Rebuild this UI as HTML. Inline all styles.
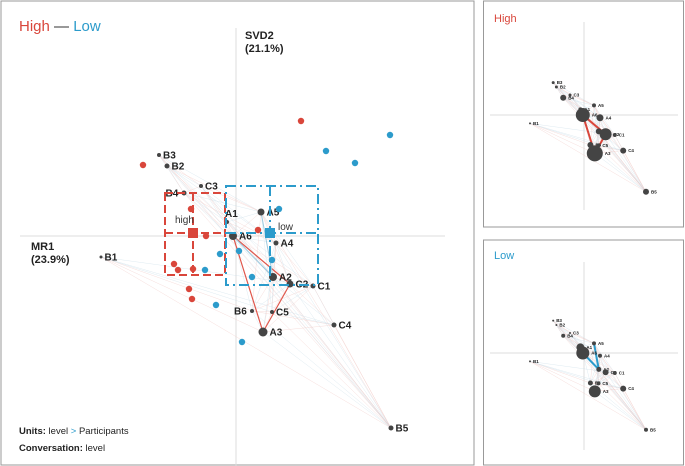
<!DOCTYPE html>
<html><head><meta charset="utf-8"><style>
body{margin:0;background:#fff;font-family:"Liberation Sans",sans-serif}
svg{display:block}
</style></head><body>
<svg id="s" width="685" height="466" xmlns="http://www.w3.org/2000/svg" font-family="Liberation Sans, sans-serif">
<rect x="1" y="1" width="473" height="464" fill="none" stroke="#999"/>
<rect x="483.5" y="1" width="200" height="226" fill="none" stroke="#999"/>
<rect x="483.5" y="240" width="200" height="225" fill="none" stroke="#999"/>
<text x="19" y="31" font-size="15"><tspan fill="#d9463b">High</tspan><tspan fill="#333"> — </tspan><tspan fill="#2c9bcb">Low</tspan></text>
<text x="245" y="39" font-size="11" font-weight="bold" fill="#222">SVD2</text>
<text x="245" y="52" font-size="11" font-weight="bold" fill="#222">(21.1%)</text>
<text x="31" y="250" font-size="11" font-weight="bold" fill="#222">MR1</text>
<text x="31" y="263" font-size="11" font-weight="bold" fill="#222">(23.9%)</text>
<text x="19" y="434" font-size="9.5" fill="#222"><tspan font-weight="bold">Units:</tspan> level <tspan fill="#2c9bcb">&gt;</tspan> Participants</text>
<text x="19" y="451" font-size="9.5" fill="#222"><tspan font-weight="bold">Conversation:</tspan> level</text>
<text x="494" y="22" font-size="11" fill="#d9463b">High</text>
<text x="494" y="259" font-size="11" fill="#2c9bcb">Low</text>
<g id="g"></g>
</svg>
<script>
const nodeNames=["B3","B2","B4","C3","A1","A6","A5","A4","A2","C2","C1","B6","C5","A3","C4","B5","B1"];
const nodeX=[-0.77,-0.69,-0.52,-0.35,-0.09,-0.03,0.25,0.40,0.37,0.54,0.77,0.16,0.36,0.27,0.98,1.55,-1.35];
const nodeY=[0.81,0.70,0.43,0.50,0.14,0.00,0.24,-0.07,-0.41,-0.48,-0.50,-0.75,-0.76,-0.96,-0.89,-1.92,-0.21];
const highSize=[1.5,1.5,3,1.5,2,7,2,3.5,3,6,2,3,2,8,3,3,1];
const lowSize=[1,1,2,1,4,6.5,2,2,2.5,3,2,2.5,2,6,3,2,1];
const redX=[-0.93,-0.45,-0.30,-0.62,-0.58,-0.43,-0.47,-0.44,0.65,0.22];
const redY=[0.71,0.27,0.00,-0.28,-0.34,-0.33,-0.53,-0.63,1.15,0.06];
const blueX=[0.90,1.19,1.54,0.43,0.03,-0.16,-0.31,0.16,-0.20,0.06,0.36];
const blueY=[0.85,0.73,1.01,0.27,-0.15,-0.18,-0.34,-0.41,-0.69,-1.06,-0.24];
const highMean=[-0.43,0.03], lowMean=[0.34,0.03];
const edgesRed=[["A6","A3"],["C2","A3"],["A6","C2"]];
const edgesBlue=[["A5","A2"],["A6","A2"]];
const NS="http://www.w3.org/2000/svg";
const g=document.getElementById('g');
function mk(t,a,p){const e=document.createElementNS(NS,t);for(const k in a)e.setAttribute(k,a[k]);(p||g).appendChild(e);return e;}
function mkAxes(ox,oy,s){return {x:v=>ox+v*s,y:v=>oy-v*s};}
function panel(ox,oy,s,x0,x1,y0,y1,sizes,labelSize,mainPanel,col){
 const A=mkAxes(ox,oy,s);
 let l=mk('line',{x1:x0,x2:x1,y1:oy,y2:oy,stroke:'#ddd','stroke-width':1});
 
 l=mk('line',{x1:ox,x2:ox,y1:y0,y2:y1,stroke:'#ddd','stroke-width':1});
 
 // faint network
 for(let i=0;i<nodeNames.length;i++)for(let j=i+1;j<nodeNames.length;j++){
  if(Math.abs(i-j)>6&&j!==15)continue;
  const e=mk('line',{x1:A.x(nodeX[i]),y1:A.y(nodeY[i]),x2:A.x(nodeX[j]),y2:A.y(nodeY[j]),stroke:(i+j)%2?'#f0c8c4':'#c9dde8','stroke-width':0.5,opacity:0.6});
  
 }
 const idx=n=>nodeNames.indexOf(n);
 const strong=mainPanel?edgesRed.concat([]):(col==='#d9463b'?edgesRed:edgesBlue);
 strong.forEach(([a,b])=>{const e=mk('line',{x1:A.x(nodeX[idx(a)]),y1:A.y(nodeY[idx(a)]),x2:A.x(nodeX[idx(b)]),y2:A.y(nodeY[idx(b)]),stroke:mainPanel?'#e0564b':col,'stroke-width':mainPanel?1.2:2});
  });
 if(mainPanel){edgesBlue.forEach(([a,b])=>{const e=mk('line',{x1:A.x(nodeX[idx(a)]),y1:A.y(nodeY[idx(a)]),x2:A.x(nodeX[idx(b)]),y2:A.y(nodeY[idx(b)]),stroke:'#9cc9de','stroke-width':1});
  });}
 for(let i=0;i<nodeNames.length;i++){
  const c=mk('circle',{cx:A.x(nodeX[i]),cy:A.y(nodeY[i]),r:sizes[i],fill:'#444'});
  
  const t=mk('text',{x:A.x(nodeX[i])+sizes[i]+2,y:A.y(nodeY[i])+labelSize*0.35,'font-size':labelSize,'font-weight':'bold',fill:'#222'});
  t.textContent=nodeNames[i];
  
  if(mainPanel&&(nodeNames[i]==='B4'||nodeNames[i]==='B6')){t.setAttribute('x',A.x(nodeX[i])-sizes[i]-16);}
  if(mainPanel&&nodeNames[i]==='A1'){t.setAttribute('x',A.x(nodeX[i])-2);t.setAttribute('y',A.y(nodeY[i])-5);}
 }
 return A;
}
// main
const M=panel(236,236,100,20,445,28,466,[2,2.5,2.5,2,2,4,3.5,2.5,4,3.5,2.5,2,2,4.5,2.5,2.5,1.5],10,true);
// dashed boxes
function box(cx,cy,col,nm){const x0=M.x(cx)-28,x1=M.x(cx)+30,y0=M.y(cy)-43,y1=M.y(cy)+39;
 if(col==='#2c9bcb'){}
 return [x0,x1,y0,y1];}
let r=mk('rect',{x:165,y:193,width:60,height:82,fill:'none',stroke:'#d9463b','stroke-width':2,'stroke-dasharray':'8,4'});

mk('line',{x1:M.x(highMean[0]),x2:M.x(highMean[0]),y1:193,y2:275,stroke:'#d9463b','stroke-width':2,'stroke-dasharray':'8,4'});
mk('line',{x1:165,x2:225,y1:M.y(highMean[1]),y2:M.y(highMean[1]),stroke:'#d9463b','stroke-width':2,'stroke-dasharray':'8,4'});
r=mk('rect',{x:226,y:186,width:92,height:99,fill:'none',stroke:'#2c9bcb','stroke-width':2,'stroke-dasharray':'10,4,2,4'});

mk('line',{x1:M.x(lowMean[0]),x2:M.x(lowMean[0]),y1:186,y2:285,stroke:'#2c9bcb','stroke-width':2,'stroke-dasharray':'10,4,2,4'});
mk('line',{x1:226,x2:318,y1:M.y(lowMean[1]),y2:M.y(lowMean[1]),stroke:'#2c9bcb','stroke-width':2,'stroke-dasharray':'10,4,2,4'});
for(let i=0;i<redX.length;i++){const c=mk('circle',{cx:M.x(redX[i]),cy:M.y(redY[i]),r:3.2,fill:'#d9463b'});
 }
for(let i=0;i<blueX.length;i++){const c=mk('circle',{cx:M.x(blueX[i]),cy:M.y(blueY[i]),r:3.2,fill:'#2c9bcb'});
 }
r=mk('rect',{x:M.x(highMean[0])-5,y:M.y(highMean[1])-5,width:10,height:10,fill:'#d9463b'});

r=mk('rect',{x:M.x(lowMean[0])-5,y:M.y(lowMean[1])-5,width:10,height:10,fill:'#2c9bcb'});

let t=mk('text',{x:M.x(highMean[0])-18,y:M.y(highMean[1])-10,'font-size':10,fill:'#333'});t.textContent='high';

t=mk('text',{x:M.x(lowMean[0])+8,y:M.y(lowMean[1])-3,'font-size':10,fill:'#333'});t.textContent='low';

// small panels
panel(584,115,40,490,678,22,210,highSize,4.5,false,'#d9463b');
panel(584,353,40,490,678,262,450,lowSize,4.5,false,'#2c9bcb');
</script>
</body></html>
